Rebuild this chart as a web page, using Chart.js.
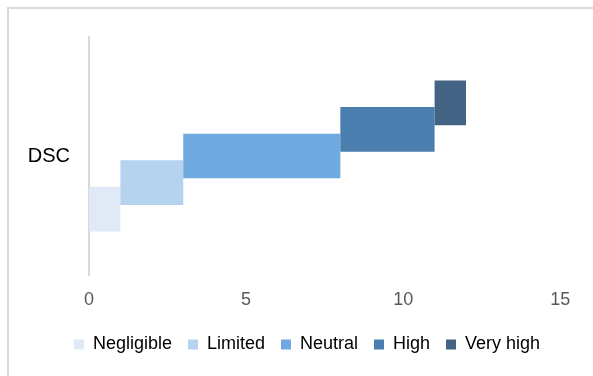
<!DOCTYPE html>
<html>
<head>
<meta charset="utf-8">
<script src="https://cdn.jsdelivr.net/npm/chart.js@4"></script>
<style>
  html, body { margin: 0; padding: 0; background: #fff; overflow: hidden; }
  #wrap { position: relative; width: 593px; height: 376px; }
  #frame { position: absolute; left: 7px; top: 7px; width: 620px; height: 400px;
           border: 2px solid #d9d9d9; box-sizing: border-box; }
  #c { position: absolute; left: 0; top: 0; }
</style>
</head>
<body>
<div id="wrap">
  <div id="frame"></div>
  <canvas id="c" width="593" height="376"></canvas>
</div>
<script>
// Rating bands for the DSC score: each band spans [start, end] on the score axis
const categories = ['DSC'];
const levels = ['Negligible', 'Limited', 'Neutral', 'High', 'Very high'];
const rangeStart = [0, 1, 3, 8, 11];
const rangeEnd = [1, 3, 8, 11, 12];
const xTicks = [0, 5, 10, 15];

const palette = ['#dfeaf6', '#b5d3ee', '#70a9df', '#4a7eae', '#436385'];
const FONT = '"Liberation Sans", Arial, sans-serif';

// Highest band first so it sits at the top of the group
const order = levels.map((_, i) => i).reverse();
const datasets = order.map(i => ({
  label: levels[i],
  data: categories.map(() => [rangeStart[i], rangeEnd[i]]),
  backgroundColor: palette[i],
  borderWidth: 0,
  borderSkipped: false,
  categoryPercentage: 0.559,
  barPercentage: 1.68
}));

new Chart(document.getElementById('c'), {
  type: 'bar',
  data: { labels: categories, datasets },
  options: {
    indexAxis: 'y',
    responsive: false,
    animation: false,
    layout: { padding: { left: 21, right: 0, top: 37, bottom: 12.5 } },
    plugins: {
      tooltip: { enabled: false },
      legend: {
        position: 'bottom',
        reverse: true,
        labels: {
          boxWidth: 10,
          boxHeight: 10,
          padding: 16,
          color: '#000',
          font: { family: FONT, size: 18 }
        }
      }
    },
    scales: {
      x: {
        type: 'linear',
        min: 0,
        max: 15,
        grid: { display: false, drawTicks: false },
        border: { display: false },
        afterBuildTicks: s => { s.ticks = xTicks.map(v => ({ value: v })); },
        afterFit: s => { s.height = 44.5; },
        ticks: { color: '#595959', padding: 14, font: { family: FONT, size: 18 } }
      },
      y: {
        type: 'category',
        grid: { display: false, drawTicks: false },
        border: { display: true, color: '#d9d9d9', width: 2 },
        afterFit: s => { s.width = 68; },
        ticks: { color: '#000', padding: 19, font: { family: FONT, size: 20 } }
      },
      yRight: {
        type: 'linear',
        position: 'right',
        display: true,
        grid: { display: false },
        border: { display: false },
        ticks: { display: false },
        afterFit: s => { s.width = 32.75; }
      }
    }
  }
});
</script>
</body>
</html>
